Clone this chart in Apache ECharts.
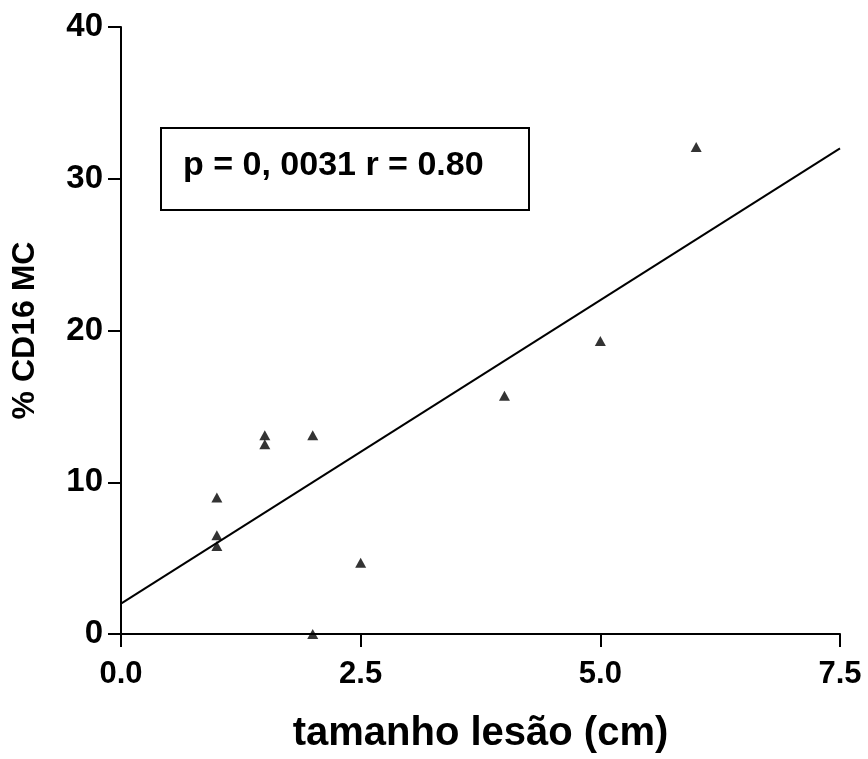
<!DOCTYPE html>
<html>
<head>
<meta charset="utf-8">
<script src="https://cdn.jsdelivr.net/npm/echarts@6/dist/echarts.min.js"></script>
<style>html,body{margin:0;padding:0;background:#fff}#c{width:868px;height:759px}</style>
</head>
<body>
<div id="c"></div>
<script>
// Data
const sizeCm = [1.0, 1.0, 1.0, 1.5, 1.5, 2.0, 2.0, 2.5, 4.0, 5.0, 6.0];
const cd16Pct = [9.0, 6.5, 5.8, 13.1, 12.5, 13.1, 0.0, 4.7, 15.7, 19.3, 32.1];
const fitX = [0, 7.5];
const fitY = [2.0, 32.0];
const xTicks = [0, 2.5, 5.0, 7.5];
const yTicks = [0, 10, 20, 30, 40];
const annotationText = 'p = 0, 0031 r = 0.80';
const xTitle = 'tamanho lesão (cm)';
const yTitle = '% CD16 MC';

const points = sizeCm.map((x, i) => [x, cd16Pct[i]]);
const fit = fitX.map((x, i) => [x, fitY[i]]);
const font = '"Liberation Sans", Arial, sans-serif';

const chart = echarts.init(document.getElementById('c'), null, {renderer: 'canvas'});
chart.setOption({
  animation: false,
  backgroundColor: '#fff',
  grid: {left: 121, right: 28, top: 27, bottom: 122, containLabel: false},
  xAxis: {
    type: 'value', min: xTicks[0], max: xTicks[xTicks.length - 1], interval: xTicks[1] - xTicks[0],
    axisLine: {show: true, onZero: false, lineStyle: {color: '#000', width: 2}},
    axisTick: {show: true, length: 13, lineStyle: {color: '#000', width: 2}},
    splitLine: {show: false},
    axisLabel: {color: '#000', fontFamily: font, fontWeight: 'bold', fontSize: 31, margin: 25,
      formatter: v => v.toFixed(1)},
    name: xTitle, nameLocation: 'middle', nameGap: 80,
    nameTextStyle: {color: '#000', fontFamily: font, fontWeight: 'bold', fontSize: 40}
  },
  yAxis: {
    type: 'value', min: yTicks[0], max: yTicks[yTicks.length - 1], interval: yTicks[1] - yTicks[0],
    axisLine: {show: true, onZero: false, lineStyle: {color: '#000', width: 2}},
    axisTick: {show: true, length: 13, lineStyle: {color: '#000', width: 2}},
    splitLine: {show: false},
    axisLabel: {color: '#000', fontFamily: font, fontWeight: 'bold', fontSize: 33, margin: 18},
    name: yTitle, nameLocation: 'middle', nameGap: 80, nameRotate: 90,
    nameTextStyle: {color: '#000', fontFamily: font, fontWeight: 'bold', fontSize: 32}
  },
  series: [
    {type: 'line', data: fit, symbol: 'none', lineStyle: {color: '#000', width: 2}, z: 2},
    {type: 'scatter', data: points, symbol: 'triangle', symbolSize: [11, 10],
      itemStyle: {color: '#000'}, z: 3}
  ],
  graphic: [
    {type: 'rect', left: 160, top: 127, shape: {width: 368, height: 82},
      style: {fill: '#fff', stroke: '#000', lineWidth: 2}, z: 10},
    {type: 'text', left: 183, top: 149, z: 11,
      style: {text: annotationText, fill: '#000', font: 'bold 34px ' + font}}
  ]
});
</script>
</body>
</html>
